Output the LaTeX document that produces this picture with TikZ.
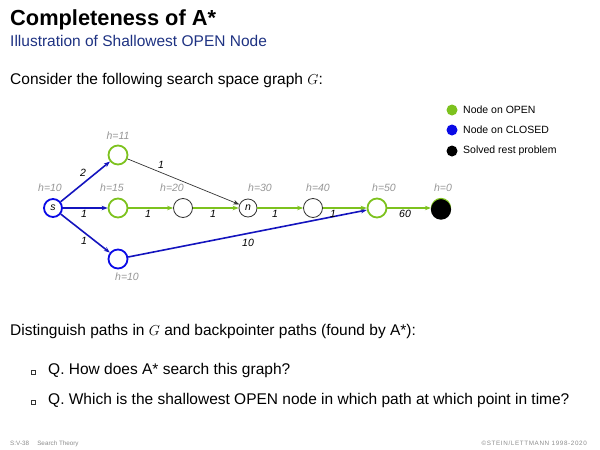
\documentclass[tikz,border=0pt]{standalone}
\usepackage{fontspec}
\setmainfont{Liberation Sans}
\usetikzlibrary{arrows.meta}
\definecolor{opengreen}{RGB}{125,194,30}
\definecolor{closedblue}{RGB}{10,10,230}
\definecolor{edgeblue}{RGB}{20,20,190}
\definecolor{subblue}{RGB}{30,50,130}
\definecolor{hgray}{RGB}{150,150,150}
\tikzset{
  gnode/.style={circle,minimum size=19pt,inner sep=0pt,font=\fontsize{10.5}{10.5}\selectfont\itshape},
  opennode/.style={gnode,draw=opengreen,line width=1.8pt},
  closednode/.style={gnode,draw=closedblue,line width=1.8pt},
  plainnode/.style={gnode,draw=black!80,line width=0.8pt},
  hlab/.style={text=hgray,font=\fontsize{10.5}{10.5}\selectfont\itshape,inner sep=0pt},
  elab/.style={font=\fontsize{10.5}{10.5}\selectfont\itshape,inner sep=0pt},
  arr/.style={-{Stealth[length=6pt,width=4.5pt]}},
  bedge/.style={arr,draw=edgeblue,line width=1.6pt},
  gedge/.style={arr,draw=opengreen,line width=1.4pt},
  kedge/.style={arr,draw=black!80,line width=0.7pt},
  legtext/.style={anchor=west,inner sep=0pt,font=\fontsize{10.5}{10.5}\selectfont},
  body/.style={anchor=base west,inner sep=0pt,font=\fontsize{15.5}{16}\selectfont},
  foot/.style={inner sep=0pt,text=black!45,font=\fontsize{6.3}{6.3}\selectfont}
}
\begin{document}
\begin{tikzpicture}[x=1pt,y=-1pt]
\useasboundingbox (0,0) rectangle (600,450);
% title
\node[anchor=base west,inner sep=0pt,font=\fontsize{21.8}{22}\selectfont\bfseries] (title) at (10,25) {Completeness of A*};
\node[anchor=base west,inner sep=0pt,text=subblue,font=\fontsize{15.5}{16}\selectfont] (subtitle) at (10,46) {Illustration of Shallowest OPEN Node};
\node[body] (consider) at (10,84) {Consider the following search space graph $G$:};
% nodes
\node[closednode,minimum size=18pt] (s) at (53,208) {s};
\node[opennode] (top) at (118,155) {};
\node[opennode] (mid) at (118,208) {};
\node[closednode] (bot) at (118,259) {};
\node[plainnode] (h20) at (183,208) {};
\node[plainnode,minimum size=18pt] (n) at (248,208) {n};
\node[plainnode] (h40) at (313,208) {};
\node[opennode] (h50) at (377,208) {};
\node[gnode,fill=black,draw=opengreen,line width=1.2pt] (goal) at (441,208) {};
\fill[black] (441,209.6) circle (10.1pt);
% h labels
\node[hlab] (lh10) at (50,188) {h=10};
\node[hlab] (lh11) at (118,136) {h=11};
\node[hlab] (lh15) at (112,188) {h=15};
\node[hlab] (lh20) at (172,188) {h=20};
\node[hlab] (lh30) at (260,188) {h=30};
\node[hlab] (lh40) at (318,188) {h=40};
\node[hlab] (lh50) at (384,188) {h=50};
\node[hlab] (lh0) at (443,188) {h=0};
\node[hlab] (lh10b) at (127,277) {h=10};
% edges
\draw[bedge] (s) -- (top);
\draw[bedge] (s) -- (mid);
\draw[bedge] (s) -- (bot);
\draw[bedge] (bot) -- (h50);
\draw[kedge] (top) -- (n);
\draw[gedge] (mid) -- (h20);
\draw[gedge] (h20) -- (n);
\draw[gedge] (n) -- (h40);
\draw[gedge] (h40) -- (h50);
\draw[gedge] (h50) -- (goal);
% edge labels
\node[elab] (e1) at (83,173) {2};
\node[elab] (e2) at (84,214) {1};
\node[elab] (e3) at (84,241) {1};
\node[elab] (e4) at (148,214) {1};
\node[elab] (e5) at (213,214) {1};
\node[elab] (e6) at (161,165) {1};
\node[elab] (e7) at (275,214) {1};
\node[elab] (e8) at (333,214) {1};
\node[elab] (e9) at (405,214) {60};
\node[elab] (e10) at (248,243) {10};
% legend
\fill[opengreen] (452,110) circle (5.5pt);
\fill[closedblue] (452,130) circle (5.5pt);
\fill[black] (452,151) circle (5.5pt);
\node[legtext] (l1) at (463,110) {Node on OPEN};
\node[legtext] (l2) at (463,130) {Node on CLOSED};
\node[legtext] (l3) at (463,151) {Solved rest problem};
% text
\node[body] (dist) at (10,335) {Distinguish paths in $G$ and backpointer paths (found by A*):};
\draw[black!80,line width=0.5pt] (31,370.5) rectangle (35,374.5);
\draw[black!80,line width=0.5pt] (31,400.5) rectangle (35,404.5);
\node[body] (q1) at (48,374) {Q. How does A* search this graph?};
\node[body] (q2) at (48,404) {Q. Which is the shallowest OPEN node in which path at which point in time?};
% footer
\node[foot,anchor=base west] (f1) at (10,445) {S:V-38\hspace{1.3em}Search Theory};
\node[foot,anchor=base east] (f2) at (587,445) {\addfontfeature{LetterSpace=10}©STEIN/LETTMANN 1998-2020};
\end{tikzpicture}
\end{document}
